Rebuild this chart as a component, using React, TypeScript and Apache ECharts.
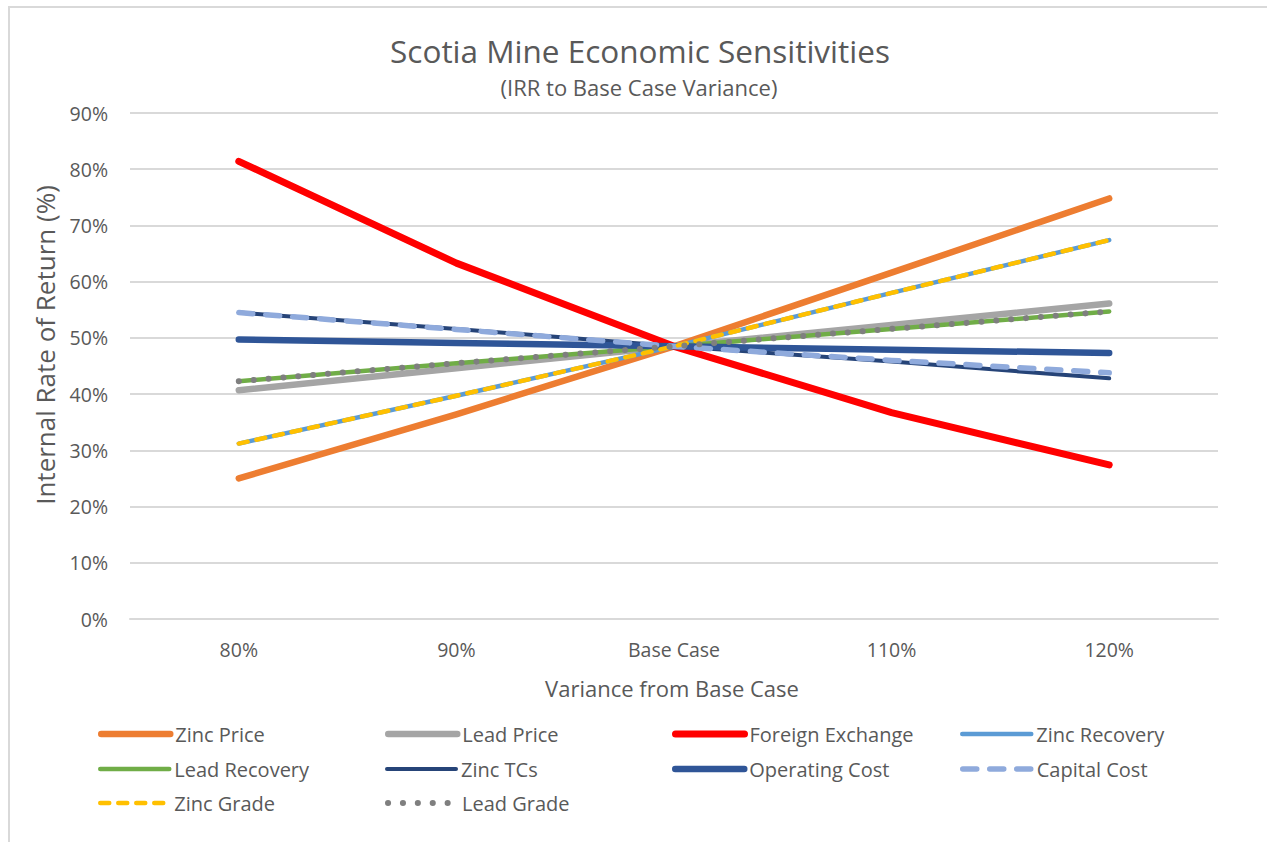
import React, { useEffect, useRef } from "react";
import * as echarts from "echarts";

const categories = ["80%", "90%", "Base Case", "110%", "120%"];

const zincPrice = [25.0, 36.4, 48.5, 61.6, 74.8];
const leadPrice = [40.7, 44.6, 48.5, 52.3, 56.1];
const foreignExchange = [81.4, 63.3, 48.5, 36.7, 27.4];
const zincRecovery = [31.2, 39.7, 48.5, 58.0, 67.4];
const leadRecovery = [42.3, 45.5, 48.5, 51.6, 54.7];
const zincTCs = [54.5, 51.6, 48.5, 45.8, 42.8];
const operatingCost = [49.7, 49.1, 48.5, 47.9, 47.3];
const capitalCost = [54.5, 51.5, 48.5, 46.0, 43.8];
const zincGrade = [31.2, 39.7, 48.5, 58.0, 67.4];
const leadGrade = [42.3, 45.5, 48.5, 51.6, 54.7];

const yTicks = [0, 10, 20, 30, 40, 50, 60, 70, 80, 90];

const FONT = "'Open Sans', 'Noto Sans', sans-serif";
const TXT = "#595959";

export default function App() {
  const ref = useRef<HTMLDivElement>(null);
  useEffect(() => {
    if (!ref.current) return;
    const chart = echarts.init(ref.current, null, { renderer: "svg" });

    const mk = (
      name: string,
      data: number[],
      color: string,
      width: number,
      type: any = "solid"
    ) => ({
      name,
      type: "line",
      data,
      symbol: "none",
      lineStyle: { color, width, type, cap: "round", join: "round" },
      itemStyle: { color },
    });

    const series = [
      mk("Zinc Price", zincPrice, "#ED7D31", 6.5),
      mk("Lead Price", leadPrice, "#A5A5A5", 6.5),
      mk("Foreign Exchange", foreignExchange, "#FF0000", 7),
      mk("Zinc Recovery", zincRecovery, "#5B9BD5", 4.5),
      mk("Lead Recovery", leadRecovery, "#70AD47", 4.5),
      mk("Zinc TCs", zincTCs, "#264478", 4),
      mk("Operating Cost", operatingCost, "#2F5597", 6.5),
      mk("Capital Cost", capitalCost, "#8FAADC", 5.5, [14, 13]),
      mk("Zinc Grade", zincGrade, "#FFC000", 4.5, [9, 9]),
      mk("Lead Grade", leadGrade, "#7F7F7F", 6, [0.1, 14.8]),
    ];

    const colX = [98, 385, 672, 960];
    const rowY = [734, 769, 803];
    const legends = series.map((s, i) => ({
      data: [s.name],
      left: colX[i % 4],
      top: rowY[Math.floor(i / 4)] - 12,
      padding: 0,
      itemWidth: 69,
      itemHeight: 14,
      itemStyle: { opacity: 0 },
      lineStyle: { width: "inherit", cap: "round" },
      textStyle: { color: TXT, fontFamily: FONT, fontSize: 20, lineHeight: 24 },
      selectedMode: false,
    }));

    chart.setOption({
      animation: false,
      backgroundColor: "#ffffff",
      textStyle: { fontFamily: FONT },
      grid: { left: 130, right: 49, top: 113, bottom: 223 },
      legend: legends,
      xAxis: {
        type: "category",
        data: categories,
        boundaryGap: true,
        axisLine: { lineStyle: { color: "#D9D9D9", width: 2 } },
        axisTick: { show: false },
        axisLabel: { color: TXT, fontSize: 19.5, fontFamily: FONT, margin: 20 },
      },
      yAxis: {
        type: "value",
        min: yTicks[0],
        max: yTicks[yTicks.length - 1],
        interval: 10,
        axisLine: { show: false },
        axisTick: { show: false },
        splitLine: { lineStyle: { color: "#D9D9D9", width: 2 } },
        axisLabel: {
          color: TXT,
          fontSize: 19.5,
          fontFamily: FONT,
          margin: 22,
          formatter: "{value}%",
        },
      },
      graphic: [
        {
          type: "rect",
          shape: { x: 9, y: 7, width: 1400, height: 1000 },
          style: { fill: "none", stroke: "#D9D9D9", lineWidth: 2 },
          silent: true,
        },
        {
          type: "text",
          x: 640,
          y: 50,
          style: {
            text: "Scotia Mine Economic Sensitivities",
            fill: TXT,
            font: `31.5px ${FONT}`,
            textAlign: "center",
            textVerticalAlign: "middle",
          },
        },
        {
          type: "text",
          x: 639,
          y: 87,
          style: {
            text: "(IRR to Base Case Variance)",
            fill: TXT,
            font: `22px ${FONT}`,
            textAlign: "center",
            textVerticalAlign: "middle",
          },
        },
        {
          type: "text",
          x: 45,
          y: 345,
          rotation: Math.PI / 2,
          style: {
            text: "Internal Rate of Return (%)",
            fill: TXT,
            font: `26px ${FONT}`,
            textAlign: "center",
            textVerticalAlign: "middle",
          },
        },
        {
          type: "text",
          x: 672,
          y: 688,
          style: {
            text: "Variance from Base Case",
            fill: TXT,
            font: `22px ${FONT}`,
            textAlign: "center",
            textVerticalAlign: "middle",
          },
        },
      ],
      series,
    });
    return () => chart.dispose();
  }, []);
  return (
    <div
      ref={ref}
      style={{ position: "fixed", left: 0, top: 0, width: 1267, height: 842 }}
    />
  );
}
